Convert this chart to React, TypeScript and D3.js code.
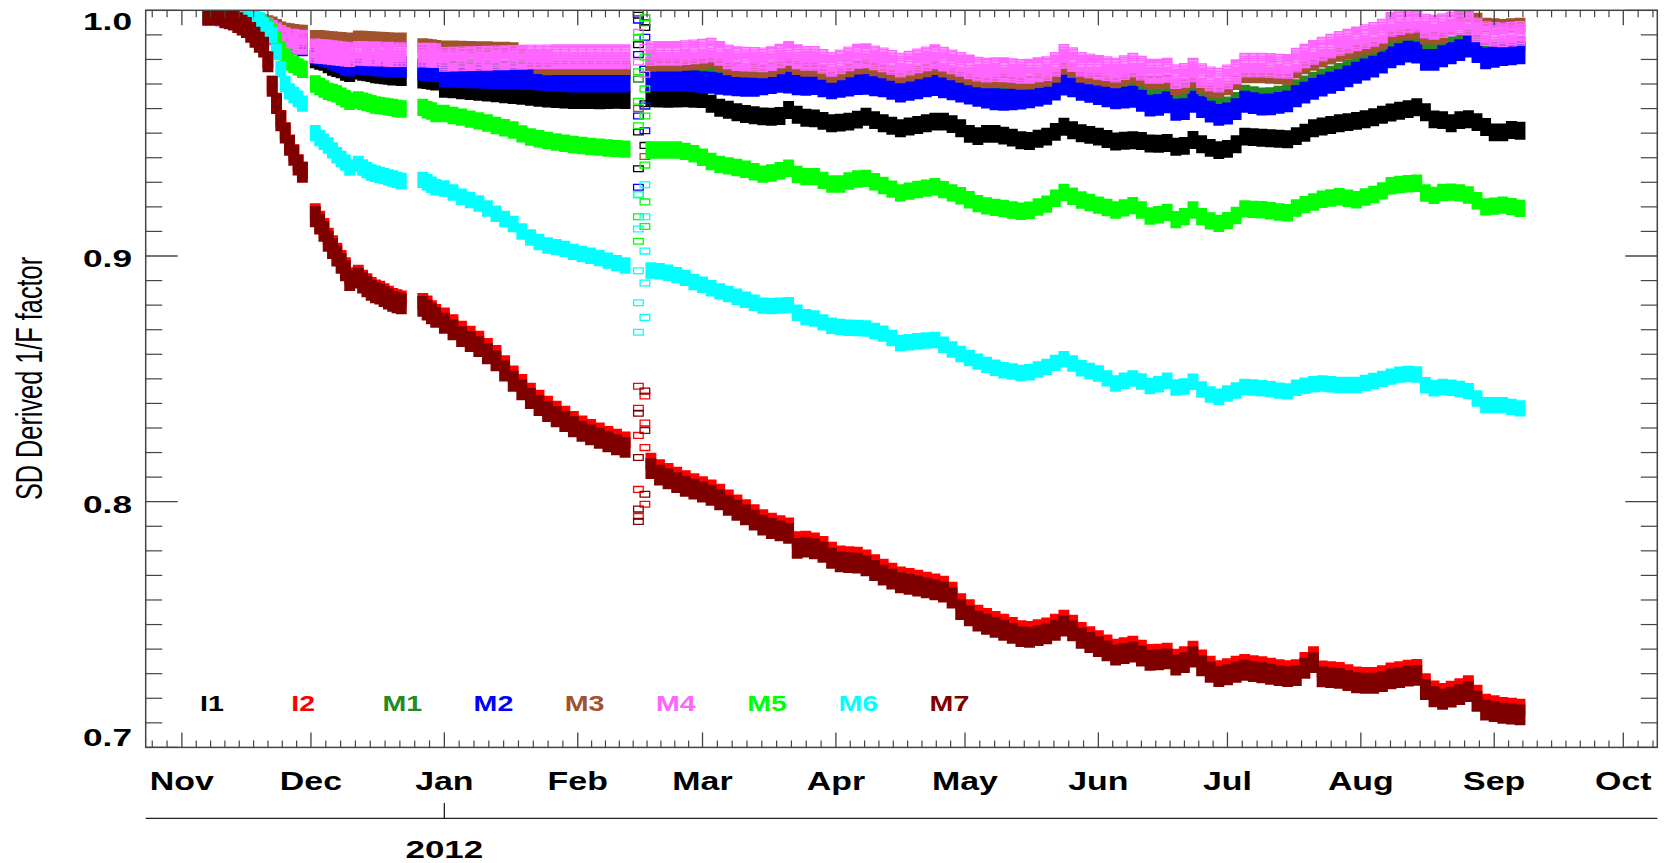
import React from 'react';
import * as d3 from 'd3';

// ---------------- DATA ----------------
// sample days, counted from 2011-11-01 (UTC)
const DAYS = [
  6, 7, 8, 9, 10, 11, 12, 13, 14, 15, 16, 17, 18, 19, 20, 21, 22, 23, 24, 25, 26, 27, 28,
  31, 32, 33, 34, 35, 36, 37, 38, 39,
  41, 42, 43, 44, 45, 46, 47, 48, 49, 50, 51,
  56, 57, 58, 59,
  61, 63, 65, 67, 69, 71, 73, 75, 77, 79,
  81, 83, 85, 87, 89, 91, 93, 95, 97, 99,
  101, 103, 109, 111, 113, 115, 117, 119, 121, 123,
  125, 127, 129, 131, 133, 135, 137, 139, 141, 143,
  145, 147, 149, 151, 153, 155, 157, 159, 161, 163,
  165, 167, 169, 171, 173, 175, 177, 179, 181, 183,
  185, 187, 189, 191, 193, 195, 197, 199, 201, 203,
  205, 207, 209, 211, 213, 215, 217, 219, 221, 223,
  225, 227, 229, 231, 233, 235, 237, 239, 241, 243,
  245, 247, 249, 251, 253, 255, 257, 259, 261, 263,
  265, 267, 269, 271, 273, 275, 277, 279, 281, 283,
  285, 287, 289, 291, 293, 295, 297, 299, 301, 303,
  305, 307, 309, 311,
];

const I1 = [
  .999, .999, .9985, .998, .998, .9975, .997, .9965, .996, .9955, .995, .994, .993, .992, .991, .990, .989, .988, .9875, .987, .9865, .986, .9855,
  .980, .9795, .979, .978, .977, .9765, .976, .975, .9745,
  .9755, .975, .9748, .9745, .974, .9738, .9735, .9733, .973, .973, .9728,
  .9718, .9716, .9713, .971,
  .968, .9678, .9675, .9671, .9668, .9665, .9662, .9658, .9655, .9652,
  .9648, .9644, .9641, .9639, .9637, .9635, .9635, .9635, .9634, .9635,
  .9636, .9635, .9642, .9641, .964, .9641, .9642, .964, .9639, .962,
  .9603, .9595, .9585, .9578, .9573, .9568, .9567, .957, .9594, .9575,
  .9563, .956, .955, .954, .9543, .9547, .9555, .9567, .9553, .954,
  .953, .952, .9527, .9533, .954, .9547, .9547, .9537, .952, .9497,
  .9488, .9497, .9497, .949, .9482, .9471, .9468, .9477, .9486, .9505,
  .9526, .9512, .950, .9493, .9486, .9476, .9466, .9469, .9471, .9468,
  .9458, .9457, .946, .9445, .9448, .9472, .9455, .944, .9431, .9436,
  .9455, .9486, .9484, .9481, .9479, .9477, .9475, .9488, .9502, .952,
  .9527, .9533, .954, .9545, .955, .9557, .9565, .9575, .9584, .9591,
  .9598, .9605, .9585, .9556, .9553, .954, .9553, .9557, .9545, .9525,
  .9503, .9503, .9513, .951,
];

const I2 = [
  .9988, .9988, .9988, .9987, .998, .9975, .997, .996, .995, .994, .992, .990, .988, .986, .980, .970, .963, .956, .951, .946, .942, .938, .935,
  .918, .915, .912, .908, .905, .902, .899, .896, .892,
  .893, .891, .8895, .888, .887, .8865, .8855, .8845, .8835, .883, .8825,
  .8815, .8805, .8785, .877,
  .8756, .8729, .8702, .8682, .8661, .8632, .8603, .8562, .852, .8485,
  .845, .8421, .8397, .8376, .8356, .8335, .8316, .8302, .8288, .8274,
  .8262, .8251, .8165, .8138, .8123, .8108, .8093, .8081, .8069, .8056,
  .8038, .8015, .7995, .7976, .7955, .7935, .7921, .7911, .7901, .7845,
  .7847, .784, .7826, .7802, .7787, .7784, .7782, .7771, .7752, .7733,
  .7717, .7702, .7696, .7689, .7681, .7673, .7664, .764, .7593, .7568,
  .7546, .7533, .7521, .7509, .7496, .7483, .748, .7487, .7494, .7509,
  .7526, .7506, .7476, .7459, .7442, .7425, .7408, .7414, .742, .7404,
  .7386, .7388, .7392, .7367, .7377, .74, .7364, .7338, .732, .7328,
  .7338, .7346, .7341, .7336, .733, .7324, .732, .7324, .7354, .7377,
  .7319, .7316, .7313, .7304, .7295, .7293, .7293, .73, .7311, .7316,
  .7322, .7325, .7267, .7238, .7228, .7237, .7247, .7259, .722, .7184,
  .7178, .7171, .7168, .7164,
];

const M1 = [
  .999, .999, .9985, .998, .998, .9975, .997, .9965, .996, .9955, .995, .9945, .9935, .9925, .9915, .9905, .9895, .9885, .988, .9875, .987, .9865, .986,
  .9815, .981, .981, .9805, .980, .9795, .979, .9785, .978,
  .980, .9798, .9795, .9793, .979, .9788, .9785, .9783, .978, .978, .9778,
  .9775, .9773, .977, .9768,
  .977, .977, .9769, .9768, .9767, .9766, .9765, .9764, .9763, .9762,
  .9761, .9759, .9757, .9755, .9753, .9751, .975, .975, .975, .975,
  .975, .975, .9755, .9756, .9756, .9756, .9754, .9751, .9748, .9745,
  .9741, .9738, .9735, .9732, .9733, .9739, .9744, .9749, .9746, .9739,
  .9737, .974, .9731, .9722, .9728, .9734, .974, .9741, .9735, .973,
  .972, .9709, .9716, .9723, .973, .9736, .9727, .9718, .9709, .9701,
  .9692, .9685, .9678, .9676, .9678, .9681, .9686, .9693, .970, .9717,
  .9738, .973, .9716, .9708, .9699, .969, .9682, .9685, .9688, .9672,
  .9652, .9655, .9665, .9635, .9638, .9668, .9646, .9628, .9614, .962,
  .9638, .9668, .9662, .9656, .9657, .9663, .9669, .969, .9705, .972,
  .9734, .9745, .9756, .9771, .9786, .9799, .9811, .9827, .9848, .9861,
  .9872, .9868, .9838, .9838, .9853, .9865, .9878, .9892, .987, .9844,
  .9851, .9858, .9861, .9865,
];

const M2 = [
  .999, .999, .9985, .998, .998, .9975, .997, .9965, .996, .9955, .995, .994, .9932, .9922, .9912, .9902, .9892, .9882, .9877, .9872, .9867, .9862, .9857,
  .9825, .982, .9815, .981, .980, .9795, .979, .978, .9775,
  .9785, .978, .978, .9778, .9776, .9775, .9774, .9773, .9772, .9771, .977,
  .9758, .9757, .9755, .9752,
  .973, .9729, .9728, .9727, .9726, .9725, .9724, .9723, .9722, .9721,
  .972, .9718, .9716, .9714, .9712, .971, .971, .971, .971, .971,
  .971, .971, .9716, .9716, .9716, .9716, .9714, .9711, .9708, .9705,
  .9701, .9698, .9695, .9692, .9693, .9699, .9704, .9709, .9706, .9699,
  .9697, .970, .9691, .9682, .9688, .9694, .970, .9701, .9695, .969,
  .968, .9669, .9676, .9683, .969, .9696, .9687, .9678, .9669, .9661,
  .9652, .9645, .9638, .9636, .9638, .9641, .9646, .9653, .966, .9677,
  .9698, .969, .9676, .9668, .9659, .965, .9642, .9645, .9648, .9632,
  .9612, .9615, .9625, .9595, .9598, .9628, .9606, .9588, .9574, .958,
  .9598, .9628, .9622, .9616, .9617, .9623, .9629, .965, .9665, .968,
  .9694, .9705, .9716, .9731, .9746, .9759, .9771, .9787, .9808, .9821,
  .9832, .9828, .9798, .9798, .9813, .9825, .9838, .9852, .983, .9804,
  .9811, .9818, .9821, .9825,
];

const M3 = [
  .9995, .9995, .9993, .999, .999, .9988, .9985, .998, .9978, .9975, .997, .9965, .996, .9955, .995, .9945, .9935, .9925, .992, .9918, .9915, .9913, .9912,
  .989, .989, .9888, .9886, .9885, .9883, .9882, .988, .988,
  .9888, .9887, .9886, .9885, .9884, .9883, .9882, .9881, .988, .988, .988,
  .9857, .9855, .9853, .985,
  .9848, .9848, .9847, .9846, .9845, .9844, .9843, .9842, .984, .982,
  .979, .977, .9765, .9766, .9766, .9766, .9766, .9766, .9766, .9766,
  .9766, .9766, .9779, .978, .978, .978, .9783, .9786, .9789, .9793,
  .978, .9765, .9758, .9756, .9755, .9753, .9758, .9769, .978, .9766,
  .9759, .9759, .9747, .9735, .9745, .9757, .9768, .977, .9761, .9753,
  .9743, .9732, .974, .9749, .9757, .9766, .9756, .9745, .9735, .9725,
  .9716, .9712, .9714, .9713, .971, .9706, .9707, .9713, .9718, .9735,
  .9767, .9754, .9735, .9729, .9723, .9718, .9712, .9722, .9732, .972,
  .9707, .9707, .9711, .9685, .969, .9712, .9689, .9676, .9671, .9684,
  .9705, .9732, .9732, .9732, .9731, .9728, .9727, .9752, .9769, .9784,
  .9797, .9809, .982, .983, .9839, .9848, .9857, .987, .9898, .9905,
  .9911, .9915, .989, .989, .9895, .993, .998, .998, .996, .994,
  .9938, .9935, .9938, .994,
];

const M4 = [
  .999, .999, .999, .9985, .998, .998, .9975, .997, .9965, .996, .9955, .995, .994, .993, .992, .991, .990, .989, .988, .9875, .9875, .987, .987,
  .9835, .9833, .9832, .983, .9828, .9826, .9824, .9822, .982,
  .9825, .9825, .9824, .9823, .9823, .9822, .9822, .9821, .982, .982, .982,
  .9818, .9818, .9817, .9816,
  .980, .9801, .9802, .9803, .9804, .9805, .9806, .9807, .9808, .9809,
  .981, .981, .981, .9811, .9811, .9811, .9811, .9811, .9811, .9811,
  .9811, .9811, .9824, .9825, .9825, .9825, .9828, .9831, .9834, .9838,
  .9825, .981, .9803, .9801, .980, .9798, .9803, .9814, .9825, .9811,
  .9804, .9804, .9792, .978, .979, .9802, .9813, .9815, .9806, .9798,
  .9788, .9777, .9785, .9794, .9802, .9811, .9801, .979, .978, .977,
  .9761, .9757, .9759, .9758, .9755, .9751, .9752, .9758, .9763, .978,
  .9812, .9799, .978, .9774, .9768, .9763, .9757, .9767, .9777, .9765,
  .9752, .9752, .9756, .973, .9735, .9757, .9734, .9721, .9716, .9729,
  .975, .9777, .9777, .9777, .9776, .9773, .9772, .9797, .9814, .9829,
  .9842, .9854, .9865, .9875, .9884, .9893, .9902, .9915, .9943, .995,
  .9956, .996, .9936, .9931, .9938, .9944, .995, .9949, .992, .9905,
  .9902, .990, .9903, .9906,
];

const M5 = [
  .999, .999, .999, .9988, .9985, .9985, .998, .998, .998, .9978, .997, .996, .995, .994, .993, .991, .988, .984, .981, .979, .978, .977, .976,
  .970, .969, .968, .967, .9665, .966, .965, .964, .963,
  .9635, .963, .9625, .962, .9615, .9612, .961, .9607, .9605, .960, .9598,
  .9605, .9595, .959, .958,
  .958, .9572, .9565, .9557, .955, .9541, .9531, .9522, .9513, .9497,
  .9484, .9477, .947, .9464, .9459, .9454, .945, .9446, .9443, .944,
  .9437, .9435, .9431, .9431, .9431, .9431, .9426, .9416, .9402, .9385,
  .9373, .9367, .936, .9353, .9343, .9333, .9338, .9347, .9357, .9332,
  .9323, .9323, .9308, .9293, .9293, .9305, .9313, .9316, .9302, .9287,
  .9272, .9257, .9264, .9271, .9276, .9282, .927, .9257, .9245, .9229,
  .9213, .9204, .9198, .9193, .9187, .9182, .9186, .9199, .9211, .9235,
  .9258, .9243, .9228, .9218, .9207, .9197, .9187, .9196, .9205, .9187,
  .9163, .9168, .9177, .9148, .916, .9187, .916, .9143, .9133, .9144,
  .9165, .9192, .919, .9188, .9184, .9179, .9176, .9195, .9209, .922,
  .9231, .9236, .9241, .9235, .9229, .924, .925, .9265, .9286, .9291,
  .9294, .9296, .9256, .9247, .9258, .926, .9257, .9248, .9225, .920,
  .9203, .9207, .9201, .9194,
];

const M6 = [
  .999, .999, .999, .9988, .9985, .9985, .998, .998, .998, .9978, .9975, .997, .996, .994, .992, .990, .983, .976, .970, .967, .9655, .964, .962,
  .950, .948, .9465, .945, .943, .941, .9395, .938, .936,
  .9375, .936, .935, .934, .9335, .933, .9325, .932, .9315, .931, .9305,
  .931, .930, .929, .928,
  .9275, .9258, .9241, .9228, .9214, .9193, .9172, .9151, .913, .91,
  .9075, .9057, .9043, .9036, .9029, .9017, .9008, .9001, .8992, .8981,
  .8971, .8961, .8941, .8938, .8932, .8922, .8911, .8894, .8883, .8869,
  .8856, .8845, .8834, .8822, .881, .8798, .8796, .8798, .880, .8769,
  .8751, .8746, .873, .8716, .8711, .8708, .8707, .8705, .8695, .8684,
  .8666, .8646, .8649, .8653, .8656, .8658, .8639, .8619, .8601, .8585,
  .857, .8557, .8545, .8535, .853, .8524, .8527, .8538, .8548, .8565,
  .858, .8562, .8543, .8532, .8522, .8502, .8481, .8492, .8501, .8489,
  .8471, .8478, .8492, .8465, .8469, .8488, .8457, .8436, .8427, .844,
  .8453, .8467, .8465, .8462, .8458, .8452, .8449, .8464, .8472, .8478,
  .8481, .8478, .8475, .8475, .8475, .8483, .8491, .85, .8509, .8517,
  .852, .8518, .8474, .8462, .8467, .8464, .8459, .845, .842, .8393,
  .8393, .8393, .8386, .838,
];

const M7 = [
  .998, .998, .998, .998, .997, .9965, .996, .995, .994, .993, .991, .989, .987, .985, .979, .969, .962, .955, .950, .945, .941, .937, .934,
  .916, .913, .910, .906, .903, .900, .897, .894, .890,
  .891, .889, .8875, .886, .885, .8845, .8835, .8825, .8815, .881, .8805,
  .8795, .878, .8765, .875,
  .8726, .8699, .8672, .8652, .8631, .8602, .8573, .8532, .849, .8455,
  .842, .8391, .8367, .8346, .8326, .8305, .8286, .8272, .8258, .8244,
  .8232, .8221, .8135, .8108, .8093, .8078, .8063, .8051, .8039, .8026,
  .8008, .7985, .7965, .7946, .7925, .7905, .7891, .7881, .7871, .781,
  .7815, .7808, .7794, .777, .7755, .7752, .775, .7739, .772, .7701,
  .7685, .767, .7664, .7657, .7649, .7641, .7632, .7608, .7561, .7536,
  .7514, .7501, .7489, .7477, .7464, .7451, .7448, .7455, .7462, .7477,
  .7494, .7474, .7444, .7427, .741, .7393, .7376, .7382, .7388, .7372,
  .7354, .7356, .736, .7335, .7345, .7368, .7332, .7306, .7288, .7296,
  .7306, .7314, .7309, .7304, .7298, .7292, .7288, .7292, .7322, .7345,
  .7287, .7284, .7281, .7272, .7263, .7261, .7261, .7268, .7279, .7284,
  .729, .7293, .7235, .7206, .7196, .7205, .7215, .7227, .7188, .7152,
  .7146, .7139, .7136, .7132,
];

// outlier readings around the 2012-02-15 event: [day since 2011-11-01, value]
const SPIKE_I1 = [[106.1, .998], [107.6, .993], [106.1, .986], [107.6, .976], [107.6, .962], [106.1, .9505], [106.1, .9355], [107.6, .945]];
const SPIKE_I2 = [[106.1, .847], [107.6, .843], [106.1, .838], [107.6, .832], [106.1, .827], [107.6, .822], [106.1, .805], [107.6, .799], [106.1, .794]];
const SPIKE_M1 = [[107.6, .995], [106.1, .972]];
const SPIKE_M2 = [[106.1, .996], [107.6, .989], [106.1, .982], [107.6, .976], [107.6, .961], [106.1, .957], [107.6, .951], [106.1, .928]];
const SPIKE_M3 = [[106.1, .999], [107.6, .9405], [106.1, .960]];
const SPIKE_M4 = [[107.6, .997], [106.1, .991], [107.6, .985], [106.1, .979], [107.6, .974]];
const SPIKE_M5 = [[107.6, .997], [106.1, .989], [107.6, .981], [106.1, .975], [107.6, .968], [106.1, .963], [107.6, .957], [106.1, .953], [107.6, .937], [106.1, .925], [107.6, .922], [106.1, .916], [107.6, .912], [106.1, .906]];
const SPIKE_M6 = [[107.6, .929], [106.1, .925], [107.6, .916], [106.1, .911], [107.6, .902], [106.1, .894], [107.6, .889], [106.1, .881], [107.6, .875], [106.1, .869]];
const SPIKE_M7 = [[107.6, .845], [106.1, .836], [107.6, .829], [106.1, .818], [107.6, .803], [106.1, .797], [106.1, .792]];

const BAND_NAMES = ['I1', 'I2', 'M1', 'M2', 'M3', 'M4', 'M5', 'M6', 'M7'];
const BAND_VALUES = [I1, I2, M1, M2, M3, M4, M5, M6, M7];
const BAND_SPIKES = [SPIKE_I1, SPIKE_I2, SPIKE_M1, SPIKE_M2, SPIKE_M3, SPIKE_M4, SPIKE_M5, SPIKE_M6, SPIKE_M7];
// half of the detector-to-detector spread of each band
const BAND_HALF_SPREAD = [.0022, .002, .0015, .003, .0015, .0036, .0021, .0019, .0028];
const DETECTOR_OFFSETS = [-1, -5 / 6, -4 / 6, -3 / 6, -2 / 6, -1 / 6, 0, 1 / 6, 2 / 6, 3 / 6, 4 / 6, 5 / 6, 1];

const Y_MAJOR = [0.7, 0.8, 0.9, 1.0];
const YEAR_LABEL = '2012';

// ---------------- STYLE ----------------
const COLORS = ['#000000', '#ff0000', '#228b22', '#0000ff', '#a0522d', '#ff66ff', '#00ff00', '#00ffff', '#800000'];
const FONT = '"Liberation Sans", Arial, Helvetica, sans-serif';
const W = 1667, H = 863;
const L = 145.7, R = 1657.3, T = 10.3, B = 747.4;
const AXIS = '#444';
const MW = 9.6, MH = 5.8;

const T0 = Date.UTC(2011, 10, 1);
const dayToDate = (d: number) => new Date(T0 + d * 864e5);

export default function App() {
  const x = d3.scaleUtc()
    .domain([new Date(Date.UTC(2011, 9, 23, 14, 10)), new Date(Date.UTC(2012, 9, 8, 21, 36))])
    .range([L, R]);
  const y = d3.scaleLinear().domain([0.7, 1.0]).range([B, T]);

  const [d0, d1] = x.domain();
  const months = d3.utcMonth.range(d0, d1);
  const allMonths = d3.utcMonth.range(d3.utcMonth.floor(d0), d3.utcMonth.offset(d1, 1));
  const minor: number[] = [];
  for (let i = 0; i < allMonths.length - 1; i++) {
    const a = +allMonths[i], b = +allMonths[i + 1];
    for (let k = 1; k < 9; k++) {
      const t = a + (b - a) * k / 9;
      if (t > +d0 && t < +d1) minor.push(x(new Date(t)));
    }
  }
  const yMinor = d3.range(70, 101).map(v => v / 100).filter(v => !Y_MAJOR.some(m => Math.abs(m - v) < 1e-6));
  const fmt = d3.utcFormat('%b');

  const sq = (px: number, py: number) =>
    `M${(px - MW / 2).toFixed(1)},${(py - MH / 2).toFixed(1)}h${MW}v${MH}h${-MW}z`;

  const bandPaths = BAND_VALUES.map((vals, bi) => {
    const n = Math.min(vals.length, DAYS.length);
    let p = '';
    for (let i = 0; i < n; i++) {
      const px = x(dayToDate(DAYS[i]));
      for (const o of DETECTOR_OFFSETS) {
        p += sq(px, y(vals[i] + o * BAND_HALF_SPREAD[bi]));
      }
    }
    for (const [dd, v] of BAND_SPIKES[bi]) p += sq(x(dayToDate(dd)), y(v));
    return p;
  });

  const yearX = x(new Date(Date.UTC(2012, 0, 1)));

  return (
    <svg width={W} height={H} style={{ position: 'absolute', left: 0, top: 0, background: '#fff' }}
      fontFamily={FONT}>
      <defs>
        <clipPath id="plotclip"><rect x={L} y={T} width={R - L} height={B - T} /></clipPath>
      </defs>
      <rect x={0} y={0} width={W} height={H} fill="#fff" />
      <g clipPath="url(#plotclip)">
        {bandPaths.map((p, i) => (
          <path key={i} d={p} fill="none" stroke={COLORS[i]} strokeWidth={1.3} />
        ))}
      </g>
      {/* frame */}
      <rect x={L} y={T} width={R - L} height={B - T} fill="none" stroke={AXIS} strokeWidth={1.5} />
      {/* x ticks */}
      {months.map((m, i) => {
        const px = x(m);
        return (
          <g key={'m' + i}>
            <line x1={px} x2={px} y1={B} y2={B - 15} stroke={AXIS} strokeWidth={1.3} />
            <line x1={px} x2={px} y1={T} y2={T + 15} stroke={AXIS} strokeWidth={1.3} />
            <text transform={`translate(${px},790) scale(1.33,1)`} textAnchor="middle" fontSize={25.5}
              fontWeight="bold" fill="#000">{fmt(m)}</text>
          </g>
        );
      })}
      {minor.map((px, i) => (
        <g key={'n' + i}>
          <line x1={px} x2={px} y1={B} y2={B - 7} stroke={AXIS} strokeWidth={1.2} />
          <line x1={px} x2={px} y1={T} y2={T + 7} stroke={AXIS} strokeWidth={1.2} />
        </g>
      ))}
      {/* y ticks */}
      {Y_MAJOR.map((v, i) => {
        const py = y(v);
        const base = Math.max(T + 20, Math.min(B - 1, py + 11));
        return (
          <g key={'y' + i}>
            <line x1={L} x2={L + 32} y1={py} y2={py} stroke={AXIS} strokeWidth={1.3} />
            <line x1={R} x2={R - 32} y1={py} y2={py} stroke={AXIS} strokeWidth={1.3} />
            <text transform={`translate(132,${base}) scale(1.47,1)`} textAnchor="end" fontSize={24}
              fontWeight="bold" fill="#000">{v.toFixed(1)}</text>
          </g>
        );
      })}
      {yMinor.map((v, i) => {
        const py = y(v);
        return (
          <g key={'ym' + i}>
            <line x1={L} x2={L + 16.5} y1={py} y2={py} stroke={AXIS} strokeWidth={1.2} />
            <line x1={R} x2={R - 16.5} y1={py} y2={py} stroke={AXIS} strokeWidth={1.2} />
          </g>
        );
      })}
      {/* y title */}
      <text transform="translate(29,378.5) scale(1.45,1) rotate(-90)" textAnchor="middle"
        dominantBaseline="central" fontSize={25.3} fill="#000">SD Derived 1/F factor</text>
      {/* year axis */}
      <line x1={L} x2={R} y1={818.3} y2={818.3} stroke="#222" strokeWidth={1.3} />
      <line x1={yearX} x2={yearX} y1={818.3} y2={803} stroke="#222" strokeWidth={1.3} />
      <text transform={`translate(${yearX},858) scale(1.5,1)`} textAnchor="middle" fontSize={23.3}
        fontWeight="bold" fill="#000">{YEAR_LABEL}</text>
      {/* legend */}
      {BAND_NAMES.map((n, i) => (
        <text key={'l' + i} transform={`translate(${200 + i * 91.2},710.7) scale(1.3,1)`} fontSize={22}
          fontWeight="bold" fill={COLORS[i]}>{n}</text>
      ))}
    </svg>
  );
}
